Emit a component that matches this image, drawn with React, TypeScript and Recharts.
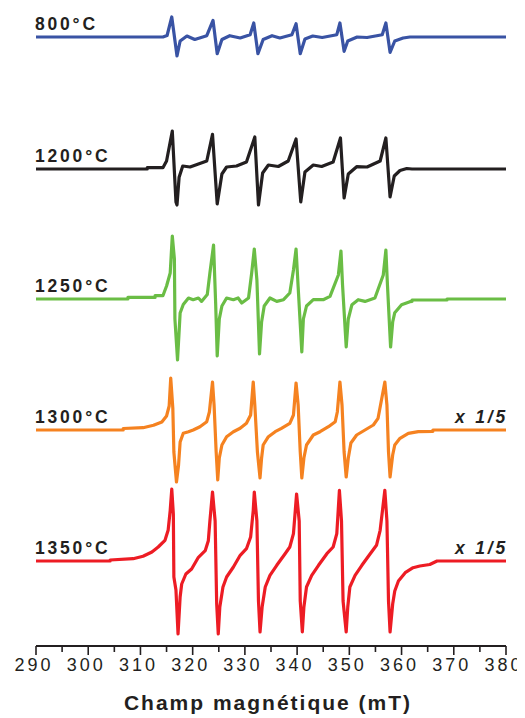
import { LineChart, Line, XAxis, YAxis } from 'recharts'

const FONT = '"Liberation Sans", Arial, Helvetica, sans-serif'
const INK = '#231f20'

// [field mT, signal a.u.]
const trace800: [number, number][] = [
  [290, 0], [314.3, 0], [315.1, 1.5], [316.0, 20], [317.0, -19], [317.6, -4], [318.9, 1], [320.4, -2.5],
  [322.7, 1.3], [323.9, 16.6], [324.7, -16.7], [325.6, -2.5], [327.1, 1.3], [329.1, -1], [331.0, 2.3],
  [331.7, 14], [332.5, -16.7], [333.5, -2.5], [335.2, 1.3], [336.7, -1], [339.0, 2.3], [339.8, 13.3],
  [340.6, -16.7], [341.5, -2], [343.0, 1], [344.8, -0.5], [347.6, 2.3], [348.2, 14], [349.0, -14.3],
  [349.7, -4], [351.5, 0], [353.4, -0.5], [356.3, 2.3], [357.0, 14], [357.8, -15.3], [358.7, -4],
  [360.3, -1], [361.6, 0], [380, 0],
]

const trace1200: [number, number][] = [
  [290, 0], [311.3, 0], [311.3, 1.3], [314.3, 1.3], [315.0, 8], [316.1, 38], [316.8, -33], [317.0, -36],
  [317.4, -8.3], [318.1, 3], [319.5, 2], [321.1, 5], [322.7, 8], [323.8, 34.7], [324.7, -35], [325.6, -5],
  [326.5, 2], [328.4, 3], [330.3, 7], [331.9, 32], [332.6, -36], [333.4, -4], [334.5, 4], [336.4, 2.5],
  [338.3, 8], [339.8, 30], [340.7, -33], [341.5, -3], [343.1, 4], [344.7, 2.5], [346.9, 7], [348.3, 31],
  [349.0, -29], [349.8, -5], [351.4, 2.3], [353.4, 2], [355.9, 8], [357.0, 31], [357.8, -28], [358.6, -7],
  [359.7, -1.5], [361.0, 0.5], [362.0, 0], [380, 0],
]

const trace1250: [number, number][] = [
  [290, 0], [307.6, 0], [307.6, 1.6], [312.8, 1.6], [312.8, 3.3], [314.3, 3.3], [315.0, 13], [315.7, 26],
  [316.1, 63], [316.5, 40], [316.6, -20], [317.1, -61], [317.4, -33], [317.6, -14], [318.2, -5.5],
  [319.2, 1], [320.1, -0.7], [321.1, 1], [321.7, -2.4], [322.8, 4.5], [323.3, 26], [324.0, 54],
  [324.4, -4], [324.7, -57], [325.1, -20], [325.6, -7], [326.5, 1], [327.8, -0.7], [328.7, 1], [329.4, -4],
  [330.7, 1], [331.3, 26], [331.8, 50], [332.3, 19], [332.8, -55], [333.2, -23], [333.7, -7], [334.8, 1],
  [336.1, -2.4], [337.4, -0.7], [338.6, 6], [339.3, 29], [339.8, 50], [340.2, 12], [340.9, -53],
  [341.2, -20], [341.8, -7], [343.1, -0.7], [345.0, -0.7], [346.3, 2.6], [347.9, 24], [348.4, 48],
  [348.7, 14], [349.4, -48], [349.8, -20], [350.5, -5.7], [351.7, -0.7], [353.0, -2.4], [354.9, 1],
  [356.5, 24], [357.0, 49], [357.3, 14], [357.9, -48], [358.3, -23], [358.7, -13.7], [360.0, -5.7],
  [361.6, -2.7], [362.0, -2.4], [362.0, -1], [368.7, -1], [368.7, 0], [380, 0],
]

const trace1300: [number, number][] = [
  [290, 0], [306.7, 0], [306.7, 1.5], [310.5, 2.3], [312.5, 4.7], [314.1, 8], [315.0, 14], [315.5, 24],
  [315.8, 52], [316.2, 22], [316.4, -22], [316.9, -52], [317.3, -35], [317.6, -12], [318.2, -3.3],
  [319.2, -1.7], [320.1, 0], [321.4, 3.3], [322.7, 8.3], [323.2, 18], [323.8, 48], [324.1, 25],
  [324.5, -22], [324.8, -50], [325.1, -28], [325.6, -15], [326.5, -6.7], [327.8, -1.7], [329.1, 1.7],
  [330.3, 6.7], [331.1, 15], [331.6, 48], [331.9, 25], [332.4, -22], [332.9, -48], [333.2, -28],
  [333.5, -15], [334.5, -6.7], [335.8, -1.7], [337.0, 1.7], [338.6, 6.7], [339.3, 15], [339.8, 47],
  [340.2, 25], [340.6, -22], [340.9, -48], [341.3, -28], [341.8, -15], [343.1, -5], [344.4, -1.7],
  [346.0, 3.3], [347.3, 8.3], [347.7, 18], [348.2, 48], [348.6, 25], [349.0, -22], [349.4, -47],
  [349.8, -28], [350.3, -13], [351.4, -5], [353.0, 0], [354.6, 5], [355.5, 11.7], [356.8, 48],
  [357.2, 25], [357.5, -22], [357.8, -47], [358.3, -25], [358.7, -15], [359.7, -8.3], [361.3, -3.3],
  [363.2, -1.7], [366.0, -1.3], [366.0, 0], [380, 0],
]

const trace1350: [number, number][] = [
  [290, 0], [304.2, 0], [304.2, 1], [308.6, 2.3], [310.5, 4.7], [312.2, 9], [313.4, 14], [314.7, 20.7],
  [315.3, 30.7], [315.7, 50.7], [316.0, 72], [316.3, 47], [316.4, -16], [316.8, -29], [317.2, -73],
  [317.6, -36], [317.9, -23], [318.7, -13], [319.8, -8], [321.1, 3.7], [322.4, 10.3], [323.0, 20.3],
  [323.3, 40], [323.8, 69], [324.3, 40], [324.6, -43], [324.9, -73], [325.2, -46], [325.8, -26],
  [326.5, -16], [327.8, -6], [329.1, 5.7], [330.3, 12.3], [331.1, 24], [331.6, 50.7], [331.8, 69],
  [332.3, 40], [332.6, -40], [332.9, -71], [333.3, -46], [333.9, -26], [334.8, -14.3], [336.1, -4.3],
  [337.7, 7.3], [338.6, 14], [339.3, 27.3], [339.9, 67], [340.4, 40], [340.6, -40], [341.0, -71],
  [341.3, -46], [341.8, -26], [342.8, -14.3], [344.1, -4.3], [345.7, 7.3], [346.9, 14], [347.6, 27.3],
  [348.1, 70.7], [348.5, 40], [348.8, -40], [349.4, -71], [349.7, -46], [350.1, -26], [351.1, -14.3],
  [352.4, -4.3], [354.0, 7.3], [355.2, 15.7], [355.9, 30.7], [356.8, 70.7], [357.2, 40], [357.5, -40],
  [357.8, -71], [358.3, -43], [358.7, -30], [359.4, -20], [360.7, -11.7], [362.2, -6.7], [363.5, -5],
  [365.4, -3.5], [366.8, 0], [380, 0],
]

const temps = ['800°C', '1200°C', '1250°C', '1300°C', '1350°C']
const scaleNotes = ['', '', '', 'x 1/5', 'x 1/5']
const stackOffsets = [609, 477, 347, 216, 85]
const fieldTicks = [290, 295, 300, 305, 310, 315, 320, 325, 330, 335, 340, 345, 350, 355, 360, 365, 370, 375, 380]

const traces = [trace800, trace1200, trace1250, trace1300, trace1350]
const colors = ['#3953a4', '#231f20', '#6abd45', '#f58220', '#ed1c24']

const series = traces.map((t, i) => t.map(([x, s]) => ({ x, y: s + stackOffsets[i] })))

const FieldTick = ({ x, y, payload }: any) => {
  const major = payload.value % 10 === 0
  return (
    <g>
      <line x1={x} x2={x} y1={y} y2={y + (major ? 9 : 6)} stroke={INK} strokeWidth={1.6} />
      {major && (
        <text x={x - 2} y={y + 25} textAnchor="middle" fontSize={18} letterSpacing={3}
          fill={INK} fontFamily={FONT}>{payload.value}</text>
      )}
    </g>
  )
}

const AxisTitle = ({ viewBox }: any) => (
  <text x={viewBox.x + viewBox.width / 2 - 3} y={viewBox.y + 64} textAnchor="middle"
    fontSize={21} fontWeight="bold" letterSpacing={2} fill={INK} fontFamily={FONT}>
    Champ magnétique (mT)
  </text>
)

// temperature on the left end of each trace, scale note on the right end
const traceLabels = (i: number) => (p: any) => {
  const last = series[i].length - 1
  if (p.index === 0) {
    return (
      <text key={`t${i}`} x={p.cx - 1} y={p.cy - 7.5} fontSize={17.5} fontWeight="bold"
        letterSpacing={2.8} fill={INK} fontFamily={FONT}>{temps[i]}</text>
    )
  }
  if (p.index === last && scaleNotes[i]) {
    return (
      <text key={`n${i}`} x={p.cx + 2} y={p.cy - 7.5} textAnchor="end" fontSize={17.5}
        fontWeight="bold" fontStyle="italic" letterSpacing={2.8} fill={INK}
        fontFamily={FONT}>{scaleNotes[i]}</text>
    )
  }
  return <g key={`d${i}-${p.index}`} />
}

export default function App() {
  return (
    <LineChart width={517} height={710} margin={{ top: 0, right: 19, bottom: 4, left: 28 }}>
      <XAxis type="number" dataKey="x" domain={[290, 380]} ticks={fieldTicks} interval={0}
        height={68} tickLine={false} tickSize={0} tickMargin={0} tick={<FieldTick />}
        axisLine={{ stroke: INK, strokeWidth: 1.8 }} label={<AxisTitle />} />
      <YAxis type="number" domain={[0, 638]} hide width={0} />
      {series.map((data, i) => (
        <Line key={temps[i]} data={data} dataKey="y" type="linear" stroke={colors[i]}
          strokeWidth={3.2} strokeLinejoin="round" dot={traceLabels(i)} activeDot={false}
          isAnimationActive={false} />
      ))}
    </LineChart>
  )
}
